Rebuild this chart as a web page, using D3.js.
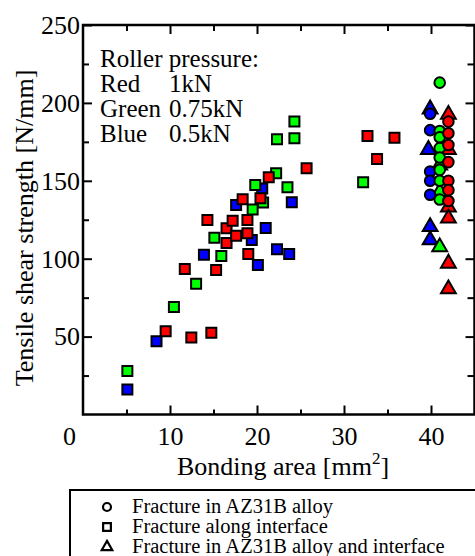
<!DOCTYPE html>
<html>
<head>
<meta charset="utf-8">
<script src="https://cdn.jsdelivr.net/npm/d3@7"></script>
<style>
  html, body { margin: 0; padding: 0; background: #fff; }
  svg { display: block; }
  text { font-family: 'Liberation Serif', 'Times New Roman', serif; fill: #000; }
</style>
</head>
<body>
<div id="chart"></div>
<script>
// data: [bonding area, strength]
var blueSquares = [[5.1, 16], [8.45, 47], [13.9, 102.5], [17.6, 134.5], [19.4, 112], [20.1, 96],
  [21.0, 119.7], [22.3, 106], [23.7, 103], [24.0, 136.3], [20.6, 145]];
var greenSquares = [[5.1, 28], [10.45, 69], [13.0, 84], [15.1, 113.5], [15.9, 101.7], [19.5, 131.5],
  [19.8, 147.3], [20.7, 136], [22.2, 154.8], [23.5, 145.8], [22.3, 176.6], [24.3, 177.3],
  [24.3, 188], [32.2, 149]];
var redSquares = [[9.5, 53.5], [12.45, 49.5], [14.75, 52.5], [11.7, 93.4], [15.3, 92.7], [14.3, 124.8],
  [16.5, 119.5], [16.5, 110], [17.2, 124.3], [17.6, 114.7], [18.9, 124.8], [18.9, 116.3],
  [19.0, 103], [18.35, 138.2], [20.4, 138.8], [21.35, 152.3], [25.7, 158], [32.7, 178.7],
  [35.8, 177.7], [33.8, 164]];
var blueCircles = [[39.9, 193], [39.9, 182.5], [39.9, 156], [39.9, 150], [39.9, 141]];
var greenCircles = [[41.0, 213], [41.0, 182], [41.0, 178], [41.0, 171], [41.0, 165], [41.0, 157],
  [41.0, 150], [41.0, 138]];
var redCircles = [[42.0, 188], [42.0, 180.5], [42.0, 173], [42.0, 162], [42.0, 150], [42.0, 144],
  [42.0, 137]];
var blueTriangles = [[39.9, 196], [39.7, 170], [39.9, 120.5], [39.9, 112]];
var greenTriangles = [[41.0, 107.5], [41.0, 160], [41.0, 143]];
var redTriangles = [[42.0, 192.5], [42.0, 170], [42.0, 133], [42.0, 126], [42.0, 97], [42.0, 80.5]];

var xMajor = [0, 10, 20, 30, 40];
var xMinor = [5, 15, 25, 35, 45];
var yMajor = [0, 50, 100, 150, 200, 250];
var yMinor = [25, 75, 125, 175, 225];

var noteLines = [['Roller pressure:', ''], ['Red', '1kN'], ['Green', '0.75kN'], ['Blue', '0.5kN']];
var legendItems = [
  ['circle', 'Fracture in AZ31B alloy'],
  ['square', 'Fracture along interface'],
  ['triangle', 'Fracture in AZ31B alloy and interface']
];

var W = 475, H = 556;
var plotL = 83, plotR = 474.5, plotT = 25, plotB = 414.5;

var svg = d3.select('#chart').append('svg')
  .attr('width', W)
  .attr('height', H);

var x = d3.scaleLinear().domain([0, 45]).range([plotL, plotR]);
var y = d3.scaleLinear().domain([0, 250]).range([plotB, plotT]);

// axes, ticks point inward
function styleAxis(g) {
  g.select('.domain').remove();
  g.selectAll('line').attr('stroke', '#000').attr('stroke-width', 2);
  g.selectAll('text').style('font-size', '26px').attr('fill', '#000')
    .style('font-family', "'Liberation Serif', 'Times New Roman', serif");
}

var xAxis = svg.append('g')
  .attr('transform', 'translate(0,' + plotB + ')')
  .call(d3.axisBottom(x).tickValues(xMajor).tickSizeInner(-9).tickSizeOuter(0).tickPadding(12))
  .call(styleAxis);
// the 0 label sits left of the corner
xAxis.selectAll('.tick text').attr('dx', function(d) { return d == 0 ? -14 : 0; });
xAxis.selectAll('.tick').filter(function(d) { return d == 0; }).select('line').remove();

svg.append('g')
  .attr('transform', 'translate(0,' + plotB + ')')
  .call(d3.axisBottom(x).tickValues(xMinor).tickSize(-5).tickFormat(''))
  .call(styleAxis);
svg.append('g')
  .attr('transform', 'translate(0,' + plotT + ')')
  .call(d3.axisTop(x).tickValues(xMajor.slice(1)).tickSize(-9).tickFormat(''))
  .call(styleAxis);
svg.append('g')
  .attr('transform', 'translate(0,' + plotT + ')')
  .call(d3.axisTop(x).tickValues(xMinor).tickSize(-6).tickFormat(''))
  .call(styleAxis);

svg.append('g')
  .attr('transform', 'translate(' + plotL + ',0)')
  .call(d3.axisLeft(y).tickValues(yMajor.slice(1)).tickSizeInner(-9).tickSizeOuter(0).tickPadding(3))
  .call(styleAxis);
svg.append('g')
  .attr('transform', 'translate(' + plotL + ',0)')
  .call(d3.axisLeft(y).tickValues(yMinor).tickSize(-6).tickFormat(''))
  .call(styleAxis);
svg.append('g')
  .attr('transform', 'translate(' + plotR + ',0)')
  .call(d3.axisRight(y).tickValues(yMajor.slice(1)).tickSize(-9).tickFormat(''))
  .call(styleAxis);
svg.append('g')
  .attr('transform', 'translate(' + plotR + ',0)')
  .call(d3.axisRight(y).tickValues(yMinor).tickSize(-7).tickFormat(''))
  .call(styleAxis);

// frame
svg.append('rect')
  .attr('x', plotL)
  .attr('y', plotT)
  .attr('width', plotR - plotL)
  .attr('height', plotB - plotT)
  .attr('fill', 'none')
  .attr('stroke', '#000')
  .attr('stroke-width', 2.5);

// axis titles
svg.append('text')
  .attr('transform', 'translate(33,228) rotate(-90)')
  .attr('text-anchor', 'middle')
  .style('font-size', '26px')
  .text('Tensile shear strength [N/mm]');

var xt = svg.append('text')
  .attr('x', 283)
  .attr('y', 475)
  .attr('text-anchor', 'middle')
  .style('font-size', '26px');
xt.append('tspan').text('Bonding area [mm');
xt.append('tspan').attr('dy', -11).style('font-size', '17px').text('2');
xt.append('tspan').attr('dy', 11).text(']');

// note in the upper left
var note = svg.append('text').style('font-size', '25px');
noteLines.forEach(function(l, i) {
  note.append('tspan').attr('x', 100).attr('y', 67 + i * 25).text(l[0]);
  if (l[1]) note.append('tspan').attr('x', 169).attr('y', 67 + i * 25).text(l[1]);
});

// markers
var sym = {
  circle: d3.symbol().type(d3.symbolCircle).size(88),
  square: d3.symbol().type(d3.symbolSquare).size(100),
  triangle: d3.symbol().type(d3.symbolTriangle).size(95)
};
var series = [
  ['triangle', '#0000ff', blueTriangles], ['triangle', '#00ff00', greenTriangles], ['triangle', '#ff0000', redTriangles],
  ['square', '#0000ff', blueSquares], ['square', '#00ff00', greenSquares], ['square', '#ff0000', redSquares],
  ['circle', '#0000ff', blueCircles], ['circle', '#00ff00', greenCircles], ['circle', '#ff0000', redCircles]
];
series.forEach(function(s) {
  svg.append('g').selectAll('path')
    .data(s[2])
    .enter()
    .append('path')
    .attr('d', sym[s[0]])
    .attr('transform', function(d) {
      return 'translate(' + x(d[0]) + ',' + y(d[1]) + ')';
    })
    .attr('fill', s[1])
    .attr('stroke', '#000')
    .attr('stroke-width', 2);
});

// legend box below the chart
svg.append('rect')
  .attr('x', 70)
  .attr('y', 490)
  .attr('width', 430)
  .attr('height', 90)
  .attr('fill', 'none')
  .attr('stroke', '#000')
  .attr('stroke-width', 2);

var legSym = {
  circle: d3.symbol().type(d3.symbolCircle).size(50),
  square: d3.symbol().type(d3.symbolSquare).size(60),
  triangle: d3.symbol().type(d3.symbolTriangle).size(48)
};
var leg = svg.selectAll('.leg')
  .data(legendItems)
  .enter()
  .append('g')
  .attr('transform', function(d, i) { return 'translate(0,' + (i * 20) + ')'; });
leg.append('path')
  .attr('d', function(d) { return legSym[d[0]](); })
  .attr('transform', 'translate(107,507)')
  .attr('fill', 'none')
  .attr('stroke', '#000')
  .attr('stroke-width', 2.2);
leg.append('text')
  .attr('x', 132)
  .attr('y', 513)
  .style('font-size', '20.5px')
  .text(function(d) { return d[1]; });
</script>
</body>
</html>
